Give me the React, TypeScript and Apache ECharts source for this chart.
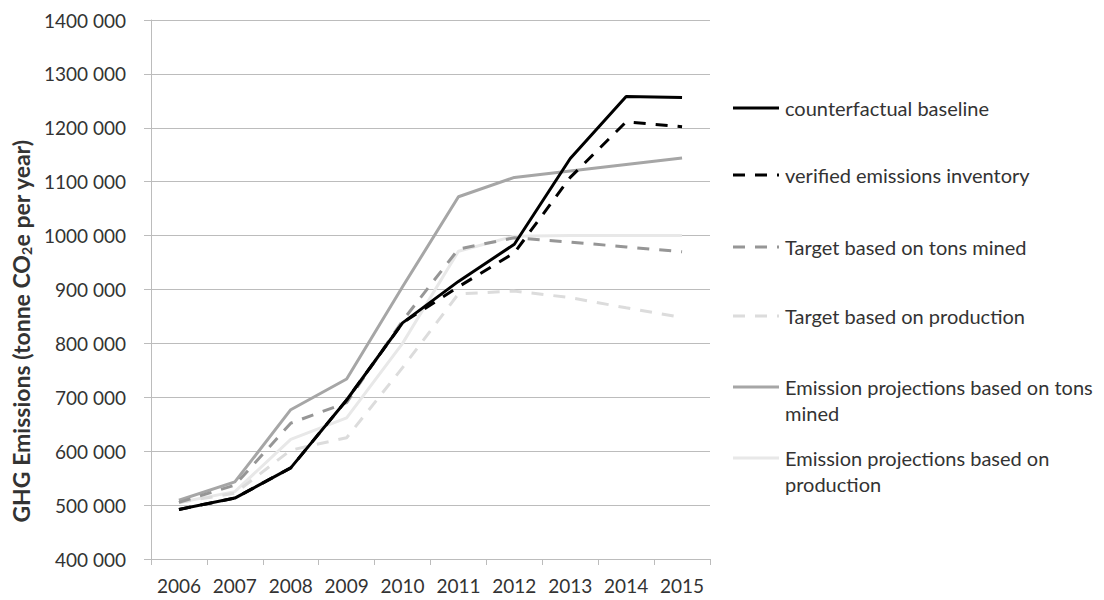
import React, { useEffect, useRef } from "react";
import * as echarts from "echarts";

const years = ["2006", "2007", "2008", "2009", "2010", "2011", "2012", "2013", "2014", "2015"];

const seriesNames = [
  "counterfactual baseline",
  "verified emissions inventory",
  "Target based on tons mined",
  "Target based on production",
  "Emission projections based on tons mined",
  "Emission projections based on production",
];

const legendLabels = [
  "counterfactual baseline",
  "verified emissions inventory",
  "Target based on tons mined",
  "Target based on production",
  "Emission projections based on tons\nmined",
  "Emission projections based on\nproduction",
];

const counterfactual = [492000, 513000, 569000, 695000, 838000, 915000, 984000, 1143000, 1258000, 1256000];
const verified = [492000, 513000, 569000, 695000, 838000, 905000, 968000, 1108000, 1211000, 1202000];
const targetTons = [505000, 537000, 652000, 690000, 842000, 975000, 996000, 988000, 979000, 970000];
const targetProd = [505000, 522000, 602000, 625000, 755000, 892000, 897000, 885000, 866000, 848000];
const projTons = [509000, 543000, 677000, 734000, 905000, 1072000, 1108000, 1120000, 1132000, 1144000];
const projProd = [505000, 525000, 622000, 662000, 800000, 971000, 999000, 1000000, 1000000, 1000000];

const seriesData = [counterfactual, verified, targetTons, targetProd, projTons, projProd];

const yTicks = { min: 400000, max: 1400000, interval: 100000 };

const FONT = "Lato";
const TEXT = "#333333";

const styles = [
  { color: "#000000", dashed: false, z: 10 },
  { color: "#000000", dashed: true, z: 9 },
  { color: "#969696", dashed: true, z: 6 },
  { color: "#dcdcdc", dashed: true, z: 4 },
  { color: "#a6a6a6", dashed: false, z: 5 },
  { color: "#e8e8e8", dashed: false, z: 3 },
];

const legendY = [108, 175, 247, 316, 387, 458];

export default function App() {
  const ref = useRef<HTMLDivElement>(null);

  useEffect(() => {
    document.body.style.margin = "0";
    if (!ref.current) return;
    const chart = echarts.init(ref.current, null, { renderer: "svg" });

    const graphics: any[] = [];
    seriesNames.forEach((_, i) => {
      const s = styles[i];
      graphics.push({
        type: "line",
        shape: { x1: 733, y1: legendY[i], x2: 779, y2: legendY[i] },
        style: {
          stroke: s.color,
          lineWidth: 3,
          lineDash: s.dashed ? [12, 10] : null,
        },
      });
      graphics.push({
        type: "text",
        x: 785,
        y: legendY[i] - 13,
        style: {
          text: legendLabels[i],
          fill: TEXT,
          font: `20px ${FONT}`,
          lineHeight: 26,
          verticalAlign: "top",
        },
      });
    });

    graphics.push({
      type: "text",
      x: 21,
      y: 331,
      rotation: Math.PI / 2,
      style: {
        text: "GHG Emissions (tonne CO{sub|2}e per year)",
        fill: TEXT,
        font: `bold 23px ${FONT}`,
        align: "center",
        verticalAlign: "middle",
        rich: {
          sub: { font: `bold 14px ${FONT}`, fill: TEXT, verticalAlign: "bottom", padding: [10, 0, 0, 0] },
        },
      },
    });

    chart.setOption({
      animation: false,
      backgroundColor: "#ffffff",
      grid: { left: 151, right: 394, top: 20, bottom: 41, containLabel: false },
      xAxis: {
        type: "category",
        data: years,
        boundaryGap: true,
        axisLine: { lineStyle: { color: "#bcbcbc", width: 1 } },
        axisTick: { show: true, length: 6, lineStyle: { color: "#bcbcbc" } },
        axisLabel: { color: TEXT, fontFamily: FONT, fontSize: 19, margin: 17, interval: 0, hideOverlap: false },
        splitLine: { show: false },
      },
      yAxis: {
        type: "value",
        min: yTicks.min,
        max: yTicks.max,
        interval: yTicks.interval,
        axisLine: { show: true, lineStyle: { color: "#bcbcbc", width: 1 } },
        axisTick: { show: true, length: 7, lineStyle: { color: "#bcbcbc" } },
        axisLabel: {
          color: TEXT,
          fontFamily: FONT,
          fontSize: 19,
          margin: 25,
          formatter: (v: number) => `${Math.round(v / 1000)} 000`,
        },
        splitLine: { show: true, lineStyle: { color: "#bcbcbc", width: 1 } },
      },
      series: seriesNames.map((name, i) => ({
        name,
        type: "line",
        data: seriesData[i],
        symbol: "none",
        z: styles[i].z,
        lineStyle: {
          color: styles[i].color,
          width: 3,
          type: styles[i].dashed ? [12, 10] : "solid",
        },
      })),
      graphic: graphics,
    });

    return () => chart.dispose();
  }, []);

  return <div ref={ref} style={{ width: 1104, height: 600 }} />;
}
